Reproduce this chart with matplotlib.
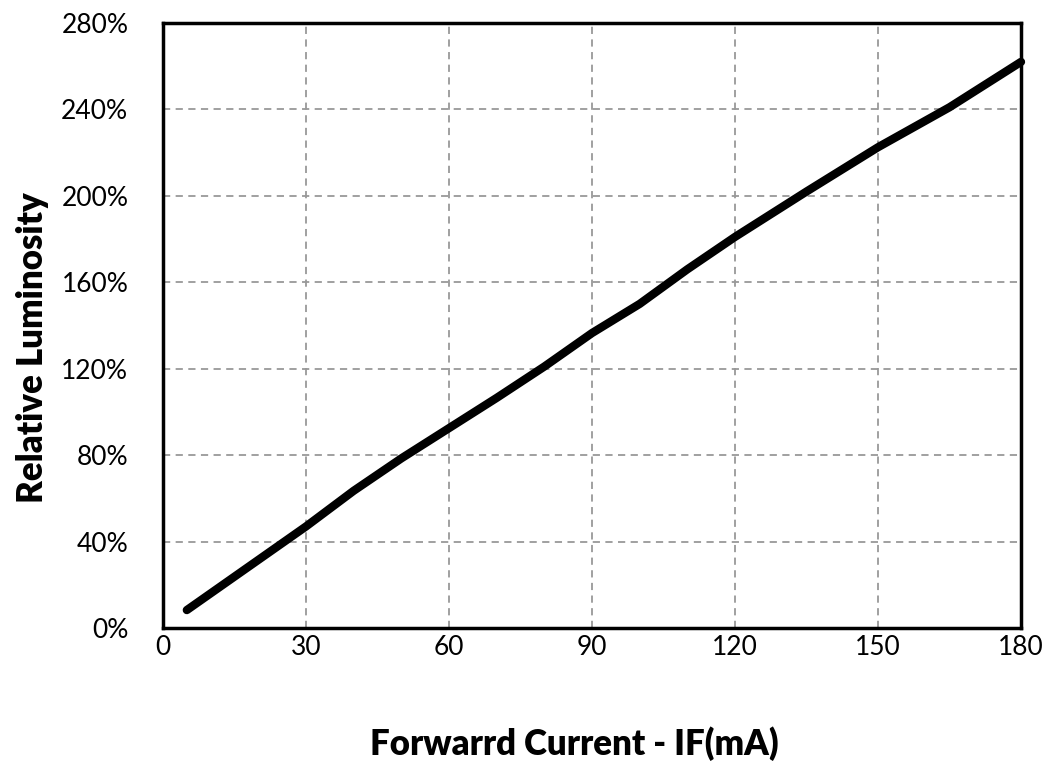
import matplotlib.pyplot as plt
from matplotlib.ticker import FuncFormatter

current = [5, 30, 40, 50, 60, 70, 80, 90, 100, 110, 120, 135, 150, 165, 180]
luminosity = [8.3, 47, 63.5, 78.5, 92.5, 106.5, 121, 136.5, 150, 166, 181, 202, 222.5, 241, 262]

x_ticks = [0, 30, 60, 90, 120, 150, 180]
y_ticks = [0, 40, 80, 120, 160, 200, 240, 280]

plt.rcParams['font.family'] = ['Lato', 'DejaVu Sans']

fig = plt.figure(figsize=(10.46, 7.64), dpi=100)
ax = fig.add_axes([163 / 1046, 1 - 628 / 764, (1021 - 163) / 1046, (628 - 23) / 764])

ax.plot(current, luminosity, color='black', linewidth=6, solid_capstyle='round',
        solid_joinstyle='round', zorder=3, clip_on=False)

ax.set_xlim(0, 180)
ax.set_ylim(0, 280)
ax.set_xticks(x_ticks)
ax.set_yticks(y_ticks)
ax.yaxis.set_major_formatter(FuncFormatter(lambda v, p: f"{v:.0f}%"))
ax.tick_params(length=0, labelsize=19)
ax.tick_params(axis='x', pad=5)
ax.tick_params(axis='y', pad=25)

ax.grid(True, color='#999999', linestyle=(0, (4, 3)), linewidth=1.3)
for s in ax.spines.values():
    s.set_linewidth(2.5)
    s.set_color('black')

ax.set_xlabel("Forwarrd Current - IF(mA)", fontsize=25, fontweight='heavy', labelpad=48)
ax.set_ylabel("Relative Luminosity", fontsize=25, fontweight='heavy', labelpad=9)
# labels in the original sit a bit off the axis centre
ax.xaxis.label.set_x(0.479)
ax.yaxis.label.set_y(0.463)

fig.savefig('out.png', dpi=100)
